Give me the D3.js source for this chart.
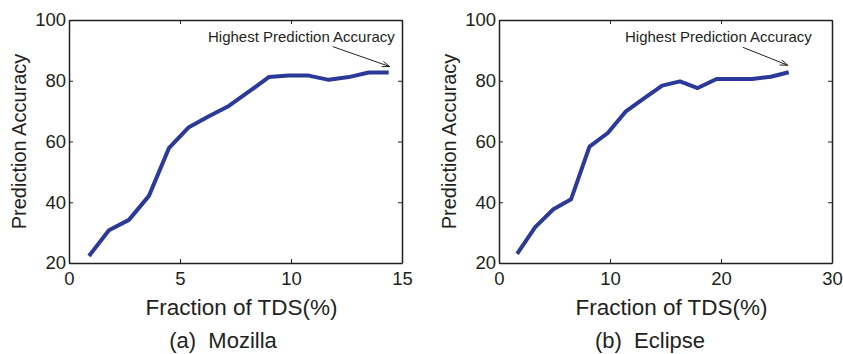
<!DOCTYPE html>
<html>
<head>
<meta charset="utf-8">
<script src="https://cdn.jsdelivr.net/npm/d3@7"></script>
<style>
  body { margin: 0; background: #fff; }
  svg { display: block; }
  text { font-family: "Liberation Sans", Arial, Helvetica, sans-serif; fill: #231f20; }
  .domain, .tick line { stroke: #231f20; }
</style>
</head>
<body>
<div class="chart-container"></div>
<script>
const width = 843;
const height = 354;

// Mozilla panel values (fraction of TDS %, prediction accuracy)
const mozillaX = [0.9, 1.8, 2.7, 3.6, 4.5, 5.4, 6.3, 7.2, 8.1, 9.0, 9.9, 10.8, 11.7, 12.6, 13.5, 14.4];
const mozillaY = [22.3, 30.8, 34.2, 42.1, 57.8, 64.7, 68.3, 71.7, 76.4, 81.2, 81.7, 81.7, 80.3, 81.2, 82.7, 82.7];

// Eclipse panel values
const eclipseX = [1.63, 3.26, 4.9, 6.5, 8.15, 9.8, 11.4, 13.0, 14.7, 16.3, 17.9, 19.6, 21.2, 22.8, 24.5, 26.1];
const eclipseY = [23.0, 31.8, 37.7, 41.0, 58.3, 62.8, 69.8, 74.0, 78.4, 79.8, 77.6, 80.6, 80.6, 80.6, 81.3, 82.8];

const yTicks = [20, 40, 60, 80, 100];
const mozillaTicks = [0, 5, 10, 15];
const eclipseTicks = [0, 10, 20, 30];

const panels = [
  {x: mozillaX, y: mozillaY, xMax: 15, xTicks: mozillaTicks, caption: '(a)\u00a0 Mozilla',
   left: 69, right: 402, captionX: 223, noteX: 208, tail: [-57, -20], tip: [1, -6]},
  {x: eclipseX, y: eclipseY, xMax: 30, xTicks: eclipseTicks, caption: '(b)\u00a0 Eclipse',
   left: 499, right: 832, captionX: 650, noteX: 625, tail: [-45, -18], tip: [-1, -7]}
];

const plotTop = 20, plotBottom = 263;

const svg = d3.select('.chart-container')
  .append('svg')
  .attr('width', width)
  .attr('height', height);

panels.forEach(p => {
  const x = d3.scaleLinear().domain([0, p.xMax]).range([p.left, p.right]);
  const y = d3.scaleLinear().domain([20, 100]).range([plotBottom, plotTop]);
  const g = svg.append('g');

  // bottom axis with labels, ticks pointing inward
  g.append('g')
    .attr('transform', `translate(0,${plotBottom})`)
    .call(d3.axisBottom(x).tickValues(p.xTicks).tickSizeInner(-4).tickSizeOuter(0).tickPadding(8))
    .call(a => a.selectAll('text').attr('font-size', 18.5).attr('dy', '0.75em'));

  g.append('g')
    .attr('transform', `translate(${p.left},0)`)
    .call(d3.axisLeft(y).tickValues(yTicks).tickSizeInner(-4).tickSizeOuter(0).tickPadding(3))
    .call(a => a.selectAll('text').attr('font-size', 18.5));

  // mirrored top / right axes, ticks only
  g.append('g')
    .attr('transform', `translate(0,${plotTop})`)
    .call(d3.axisTop(x).tickValues(p.xTicks).tickSizeInner(-4).tickSizeOuter(0).tickFormat(''));
  g.append('g')
    .attr('transform', `translate(${p.right},0)`)
    .call(d3.axisRight(y).tickValues(yTicks).tickSizeInner(-4).tickSizeOuter(0).tickFormat(''));

  g.selectAll('.domain').attr('stroke-width', 1.5);
  g.selectAll('.tick line').attr('stroke-width', 1);

  const pts = p.x.map((v, i) => [v, p.y[i]]);
  g.append('path')
    .datum(pts)
    .attr('fill', 'none')
    .attr('stroke', '#2b3a98')
    .attr('stroke-width', 4)
    .attr('stroke-linejoin', 'round')
    .attr('d', d3.line().x(d => x(d[0])).y(d => y(d[1])));

  // annotation pointing at the last (highest) point
  const last = pts[pts.length - 1];
  const tipX = x(last[0]) + p.tip[0], tipY = y(last[1]) + p.tip[1];
  const tx = tipX + p.tail[0], ty = tipY + p.tail[1];
  g.append('line')
    .attr('x1', tx).attr('y1', ty).attr('x2', tipX).attr('y2', tipY)
    .attr('stroke', '#231f20').attr('stroke-width', 1);
  const ang = Math.atan2(tipY - ty, tipX - tx);
  const ah = 8, aw = 0.35;
  g.append('path')
    .attr('fill', 'none').attr('stroke', '#231f20').attr('stroke-width', 1)
    .attr('d', `M${tipX - ah * Math.cos(ang - aw)},${tipY - ah * Math.sin(ang - aw)}L${tipX},${tipY}L${tipX - ah * Math.cos(ang + aw)},${tipY - ah * Math.sin(ang + aw)}`);
  g.append('text')
    .attr('x', p.noteX)
    .attr('y', 42)
    .attr('font-size', 15)
    .text('Highest Prediction Accuracy');

  // axis titles
  g.append('text')
    .attr('x', (p.left + p.right) / 2 + 6)
    .attr('y', 315)
    .attr('text-anchor', 'middle')
    .attr('font-size', 22.5)
    .text('Fraction of TDS(%)');
  g.append('text')
    .attr('transform', `translate(${p.left - 43},${(plotTop + plotBottom) / 2}) rotate(-90)`)
    .attr('text-anchor', 'middle')
    .attr('font-size', 20)
    .text('Prediction Accuracy');
  g.append('text')
    .attr('x', p.captionX)
    .attr('y', 348)
    .attr('text-anchor', 'middle')
    .attr('font-size', 22)
    .text(p.caption);
});
</script>
</body>
</html>
